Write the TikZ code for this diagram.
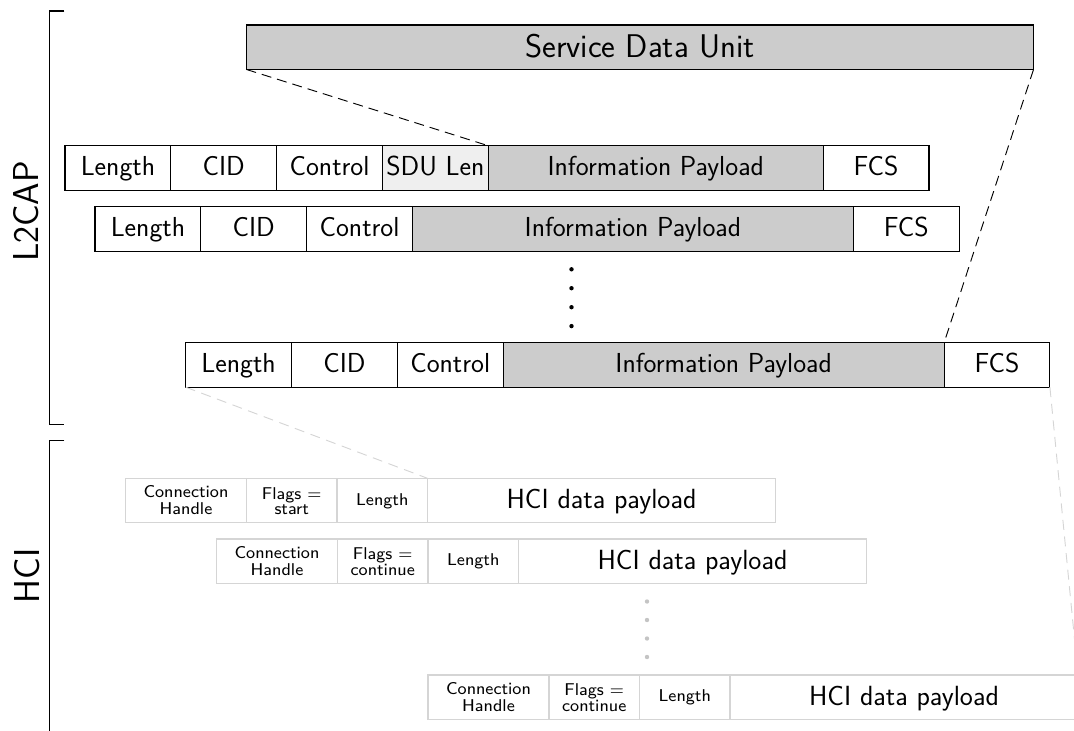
\documentclass[tikz,border=0pt]{standalone}
\usepackage{graphicx}
\definecolor{blockgray}{HTML}{CCCCCC}
\definecolor{sdulen}{HTML}{EFEFEF}
\definecolor{hcigray}{HTML}{D5D5D5}
\definecolor{dotgray}{HTML}{C4C4C4}
\newcommand{\hcitwo}[2]{\scalebox{1.6}{\fontsize{8}{7.1}\selectfont\begin{tabular}[b]{@{}c@{}}#1\\#2\end{tabular}}}
\newcommand{\hcione}[1]{\scalebox{1.6}{\fontsize{8}{9}\selectfont #1}}
\begin{document}
\begin{tikzpicture}[x=0.75pt,y=-0.75pt,
  cellbase/.style={inner sep=0pt, outer sep=0pt, anchor=north west, minimum height=33.375pt},
  lcell/.style={cellbase, draw=black, line width=0.8pt, minimum width=#1*0.75pt,
    font=\sffamily\fontsize{20.6}{24}\selectfont, text height=15pt, text depth=3pt},
  graycell/.style={lcell=#1, fill=blockgray},
  sducell/.style={cellbase, draw=black, line width=0.8pt, fill=blockgray, minimum width=#1*0.75pt,
    font=\sffamily\fontsize{24.6}{29}\selectfont, text height=18.5pt, text depth=3.5pt},
  hcell/.style={cellbase, draw=hcigray, line width=0.8pt, minimum width=#1*0.75pt, font=\sffamily},
  hcelltwo/.style={hcell=#1, text height=20.7pt, text depth=0pt},
  hcellone/.style={hcell=#1, text height=6.75pt, text depth=0pt},
  hpay/.style={hcell=#1, font=\sffamily\fontsize{20.8}{25}\selectfont, text height=15pt, text depth=3.3pt},
  layerlabel/.style={rotate=90, inner sep=0pt, font=\sffamily\fontsize{27}{32}\selectfont},
  blackdash/.style={draw=black, line width=0.7pt, dash pattern=on 7.5pt off 4.5pt},
  graydash/.style={draw=hcigray, line width=0.7pt, dash pattern=on 7.5pt off 5pt},
  bracket/.style={draw=black, line width=0.8pt}
]
\useasboundingbox (0,0) rectangle (1074,731);
\clip (0,0) rectangle (1074,731);

% layer brackets and labels
\draw[bracket] (64.3,11) -- (49.3,11) -- (49.3,424.3) -- (64.3,424.3);
\draw[bracket] (64.3,440.3) -- (49.3,440.3) -- (49.3,745);
\node[layerlabel] (l2caplbl) at (26.3,211.5) {L2CAP};
\node[layerlabel] (hcilbl) at (26.7,576) {HCI};

% service data unit
\node[sducell=787] (sdu) at (246.5,25) {Service Data Unit};

% L2CAP row 1
\node[lcell=105.8] (r1a) at (65,145.7) {Length};
\node[lcell=105.8] (r1b) at (r1a.north east) {CID};
\node[lcell=105.8] (r1c) at (r1b.north east) {Control};
\node[lcell=105.8, fill=sdulen] (r1d) at (r1c.north east) {SDU Len};
\node[graycell=335] (r1e) at (r1d.north east) {Information Payload};
\node[lcell=105.8] (r1f) at (r1e.north east) {FCS};

% L2CAP row 2
\node[lcell=105.8] (r2a) at (95,206.7) {Length};
\node[lcell=105.8] (r2b) at (r2a.north east) {CID};
\node[lcell=105.8] (r2c) at (r2b.north east) {Control};
\node[graycell=441] (r2e) at (r2c.north east) {Information Payload};
\node[lcell=105.8] (r2f) at (r2e.north east) {FCS};

% L2CAP row 3
\node[lcell=105.8] (r3a) at (185.7,342.7) {Length};
\node[lcell=105.8] (r3b) at (r3a.north east) {CID};
\node[lcell=105.8] (r3c) at (r3b.north east) {Control};
\node[graycell=441] (r3e) at (r3c.north east) {Information Payload};
\node[lcell=105.8] (r3f) at (r3e.north east) {FCS};

% L2CAP dots
\foreach \yy in {269.3,288.2,307.2,326.1}
  \fill[black] (571.5,\yy) circle[radius=2.2];

% HCI row 1
\node[hcelltwo=121] (h1a) at (125.5,478.3) {\hcitwo{Connection}{Handle}};
\node[hcelltwo=90.5] (h1b) at (h1a.north east) {\hcitwo{Flags =}{start}};
\node[hcellone=90.5] (h1c) at (h1b.north east) {\hcione{Length}};
\node[hpay=348] (h1d) at (h1c.north east) {HCI data payload};

% HCI row 2
\node[hcelltwo=121] (h2a) at (216.5,539) {\hcitwo{Connection}{Handle}};
\node[hcelltwo=90.5] (h2b) at (h2a.north east) {\hcitwo{Flags =}{continue}};
\node[hcellone=90.5] (h2c) at (h2b.north east) {\hcione{Length}};
\node[hpay=348] (h2d) at (h2c.north east) {HCI data payload};

% HCI dots
\foreach \yy in {601.5,620,638.5,657}
  \fill[dotgray] (647,\yy) circle[radius=2.2];

% HCI row 3
\node[hcelltwo=121] (h3a) at (428,675) {\hcitwo{Connection}{Handle}};
\node[hcelltwo=90.5] (h3b) at (h3a.north east) {\hcitwo{Flags =}{continue}};
\node[hcellone=90.5] (h3c) at (h3b.north east) {\hcione{Length}};
\node[hpay=348] (h3d) at (h3c.north east) {HCI data payload};

% mapping lines
\draw[blackdash] (sdu.south west) -- (r1e.north west);
\draw[blackdash] (sdu.south east) -- (r3e.north east);
\draw[graydash] (r3a.south west) -- (h1d.north west);
\draw[graydash] (r3f.south east) -- (h3d.north east);
\end{tikzpicture}
\end{document}
